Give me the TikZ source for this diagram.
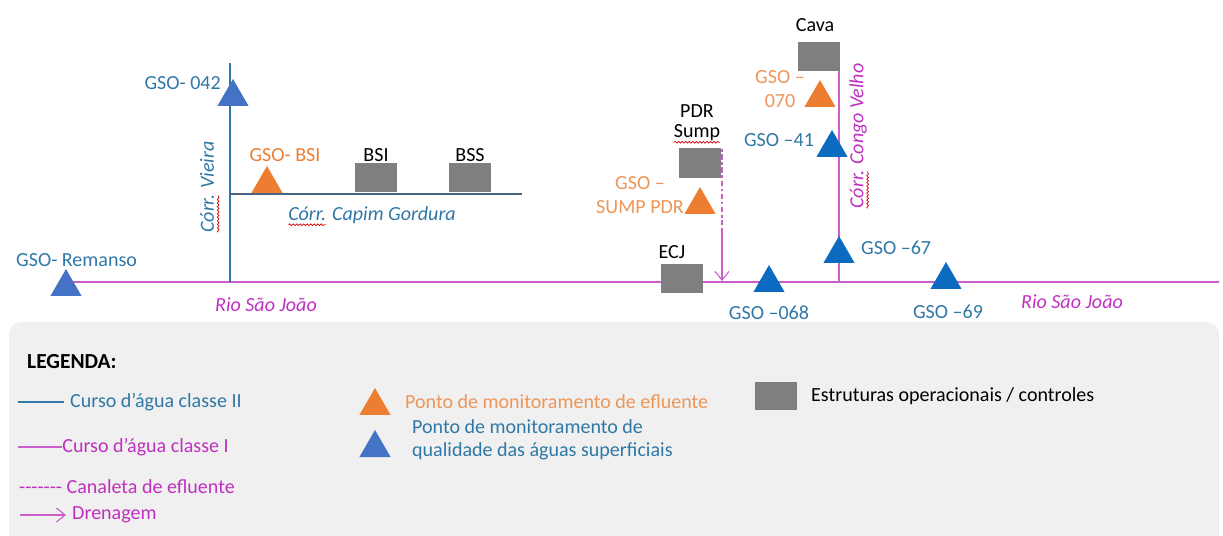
\documentclass[tikz,border=0pt]{standalone}
\usepackage{fontspec}
\setmainfont{Carlito}
\usetikzlibrary{shapes.geometric,arrows.meta,decorations.pathmorphing}

\definecolor{txtblue}{HTML}{2F78A6}
\definecolor{triblueA}{HTML}{4472C4}
\definecolor{triblueB}{HTML}{0B6BC0}
\definecolor{efl}{HTML}{ED7D31}
\definecolor{efltxt}{HTML}{EE9558}
\definecolor{mag}{HTML}{CC5ECC}
\definecolor{magtxt}{HTML}{C030C0}
\definecolor{struct}{HTML}{7F7F7F}
\definecolor{legbg}{HTML}{F0F0F0}
\definecolor{creek}{HTML}{4A6382}

\tikzset{
  tri/.style={regular polygon,regular polygon sides=3,minimum size=0.72cm,inner sep=0pt,outer sep=0pt,anchor=side 2,fill=#1},
  box/.style={rectangle,fill=struct,minimum width=0.84cm,minimum height=0.58cm,inner sep=0pt},
  classI/.style={mag,line width=0.6pt},
  classII/.style={txtblue,line width=0.6pt},
  drena/.style={mag,line width=0.6pt,-{Straight Barb[length=5pt,width=8pt]}},
  canaleta/.style={mag,line width=0.8pt,dash pattern=on 1.5pt off 1.5pt on 3pt off 1.5pt},
  spell/.style={red!80!black,line width=0.4pt,decorate,decoration={snake,amplitude=0.5pt,segment length=2pt}}
}

\begin{document}
\begin{tikzpicture}[x=0.02cm,y=-0.02cm,font=\fontsize{11.4}{13.2}\selectfont]
\useasboundingbox (0,0) rectangle (1223,536);

% legend background
\fill[legbg] (9,540) [rounded corners=7pt] -- (9,322) -- (1219,322) [sharp corners] -- (1219,540) -- cycle;

% water courses
\coordinate (rioW) at (66,282);
\coordinate (rioE) at (1219,282);
\coordinate (vieiraN) at (230,63);
\coordinate (vieiraS) at (230,282);
\coordinate (capimW) at (230,194);
\coordinate (capimE) at (522,194);
\coordinate (congoN) at (839,71);
\coordinate (congoS) at (839,282);
\coordinate (canN) at (722,149);
\coordinate (canM) at (722,229);
\coordinate (canS) at (722,281);

\draw[classI] (rioW) -- (rioE);
\draw[classII] (vieiraN) -- (vieiraS);
\draw[creek,line width=0.6pt] (capimW) -- (capimE);
\draw[classI] (congoN) -- (congoS);
\draw[canaleta] (canN) -- (canM);
\draw[drena] (canM) -- (canS);

% structures
\node[box] (bsi) at (376,178) {};
\node at (376,155) (bsilbl) {BSI};
\node[box] (bss) at (470,178) {};
\node at (470,155) (bsslbl) {BSS};
\node[box,minimum height=0.59cm] (cava) at (819,56.5) {};
\node at (815,25) (cavalbl) {Cava};
\node[box,minimum height=0.6cm] (pdr) at (700,163) {};
\node at (697,111) (pdrlbl) {PDR};
\node at (697,133) (sumplbl) {Sump};
\node[box] (ecj) at (682,279) {};
\node at (672,252) (ecjlbl) {ECJ};

% monitoring points
\node[tri=triblueA] (g042) at (233,106) {};
\node[txtblue,anchor=east] at (227,83) (g042lbl) {GSO- 042};
\node[tri=triblueA] (remanso) at (66,296) {};
\node[txtblue,anchor=west] at (10,260) (remansolbl) {GSO- Remanso};
\node[tri=efl] (gbsi) at (267,193) {};
\node[efl] at (285,155) (gbsilbl) {GSO- BSI};
\node[tri=efl] (g070) at (820,107) {};
\node[efltxt,align=center] at (780,89) (g070lbl) {GSO –\\070};
\node[tri=triblueB] (g41) at (832,157) {};
\node[txtblue] at (779,140) (g41lbl) {GSO –41};
\node[tri=efl] (gsump) at (700,214) {};
\node[efltxt,align=center] at (640,195) (gsumplbl) {GSO –\\SUMP PDR};
\node[tri=triblueB] (g068) at (769,292) {};
\node[txtblue] at (769,313) (g068lbl) {GSO –068};
\node[tri=triblueB] (g67) at (839,263) {};
\node[txtblue,anchor=west] at (855,248) (g67lbl) {GSO –67};
\node[tri=triblueB] (g69) at (946,289) {};
\node[txtblue] at (948,312) (g69lbl) {GSO –69};

% water course names
\node[txtblue,rotate=90] at (207,187) (vieiralbl) {\itshape Córr. Vieira};
\node[txtblue] at (372,215) (capimlbl) {\itshape Córr. Capim Gordura};
\node[magtxt,rotate=90] at (858,136) (congolbl) {\itshape Córr. Congo Velho};
\node[magtxt] at (266,305) (rioAlbl) {\itshape Rio São João};
\node[magtxt] at (1072,302) (rioBlbl) {\itshape Rio São João};

% spell check marks
\draw[spell] ([shift={(3.7pt,-2.5pt)}]capimlbl.base west) -- ++(37,0);
\draw[spell] ([shift={(2.5pt,3.7pt)}]vieiralbl.base west) -- ++(0,-37);
\draw[spell] ([shift={(2.5pt,3.7pt)}]congolbl.base west) -- ++(0,-37);
\draw[spell] ([shift={(3.7pt,-2.5pt)}]sumplbl.base west) -- ([shift={(-3.7pt,-2.5pt)}]sumplbl.base east);

% legend
\node[anchor=west,font=\fontsize{12.2}{14}\selectfont\bfseries] at (21,362) (legtitle) {LEGENDA:};

\node[txtblue,anchor=west] at (64,402) (legII) {Curso d’água classe II};
\coordinate (legIIa) at (18,402);
\draw[classII] (legIIa) -- (legII.west);

\node[magtxt,anchor=west,inner sep=0pt] at (62,447) (legI) {Curso d’água classe I};
\coordinate (legIa) at (18,447);
\draw[classI] (legIa) -- (legI.west);

\node[magtxt,anchor=west] at (13,487) (legcan) {{-}{-}{-}{-}{-}{-}{-} Canaleta de efluente};

\node[magtxt,anchor=west] at (66,515) (legdre) {Drenagem};
\coordinate (legdrea) at (20,515);
\draw[drena] (legdrea) -- (legdre.west);

\node[tri=efl] (legefl) at (375,415) {};
\node[efltxt,anchor=west] at (399,402) (legefllbl) {Ponto de monitoramento de efluente};
\node[tri=triblueA] (legqual) at (375,457) {};
\node[txtblue,anchor=west,align=left] at (406,440) (legquallbl) {Ponto de monitoramento de\\qualidade das águas superficiais};

\node[box,minimum height=0.58cm] (legbox) at (776,396) {};
\node[anchor=west] at (805,396) (legboxlbl) {Estruturas operacionais / controles};
\end{tikzpicture}
\end{document}
